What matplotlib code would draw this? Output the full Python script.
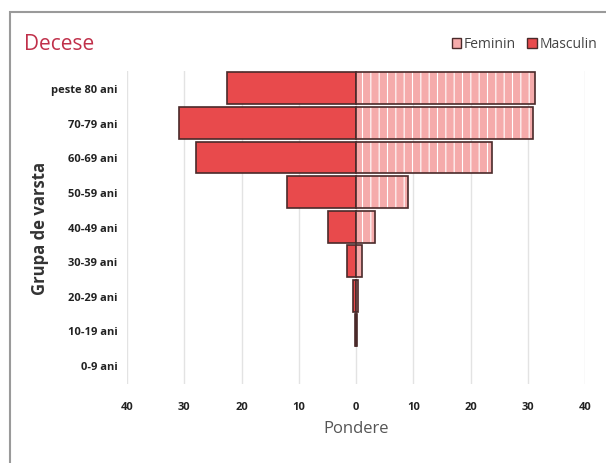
import numpy as np
import matplotlib
matplotlib.use("Agg")
import matplotlib.pyplot as plt
from matplotlib.ticker import FuncFormatter
from matplotlib.patches import Rectangle, Patch

# date (procente)
grupe = ["peste 80 ani", "70-79 ani", "60-69 ani", "50-59 ani", "40-49 ani",
         "30-39 ani", "20-29 ani", "10-19 ani", "0-9 ani"]
masculin = [22.5, 31.0, 27.9, 12.1, 4.9, 1.6, 0.5, 0.15, 0.0]
feminin = [31.2, 30.9, 23.7, 9.1, 3.3, 1.0, 0.4, 0.1, 0.0]
ticks = [-40, -30, -20, -10, 0, 10, 20, 30, 40]

plt.rcParams['font.family'] = ['Open Sans', 'DejaVu Sans']
plt.rcParams['hatch.linewidth'] = 0.8

fig = plt.figure(figsize=(6.06, 4.64), dpi=100)
fig.patch.set_facecolor("white")
# chenar exterior
fig.add_artist(Rectangle((10/606, -0.01), 1.0, 1 - 13/464 + 0.01, transform=fig.transFigure,
                         fill=False, edgecolor="#9a9a9a", linewidth=1.5))

ax = fig.add_axes([127/606, 1 - 385/464, 458/606, (385 - 72)/464])
y = np.arange(len(grupe))
rosu = "#e84a4c"
roz = "#f5abab"
contur = "#4a2a2a"
lw_m = [1.2 if v > 0 else 0 for v in masculin]
lw_f = [1.2 if v > 0 else 0 for v in feminin]

ax.barh(y, [-m for m in masculin], height=0.92, color=rosu, edgecolor=contur, linewidth=lw_m, zorder=3)
ax.barh(y, feminin, height=0.92, color=roz, edgecolor="white", hatch="||", linewidth=0, zorder=3)
ax.barh(y, feminin, height=0.92, fill=False, edgecolor=contur, linewidth=lw_f, zorder=4)

ax.set_xlim(-40, 40)
ax.set_ylim(len(grupe) - 0.45, -0.5)
ax.set_xticks(ticks)
ax.xaxis.set_major_formatter(FuncFormatter(lambda v, p: "%d" % abs(v)))
ax.set_yticks(y)
ax.set_yticklabels(grupe)
ax.tick_params(axis="y", length=0, pad=7, labelsize=8, labelcolor="#222222")
ax.tick_params(axis="x", length=0, pad=12, labelsize=8, labelcolor="#222222")
for lab in ax.get_xticklabels() + ax.get_yticklabels():
    lab.set_fontweight("bold")
ax.grid(axis="x", color="#e3e3e3", linewidth=1, zorder=0)
for s in ax.spines.values():
    s.set_visible(False)

ax.set_xlabel("Pondere", fontsize=12, color="#555555", labelpad=6)
fig.text(40/606, 1 - 228/464, "Grupa de varsta", rotation=90, ha="center", va="center",
         fontsize=12, color="#333333", fontweight="bold")

fig.text(24/606, 1 - 45/464, "Decese", fontsize=15, color="#c0304a", va="center")

handles = [Patch(facecolor=roz, edgecolor=contur, label="Feminin"),
           Patch(facecolor=rosu, edgecolor=contur, label="Masculin")]
fig.legend(handles=handles, loc="center right", bbox_to_anchor=(610/606, 1 - 45/464), ncol=2,
           frameon=False, fontsize=10, handlelength=0.7, handleheight=0.7,
           handletextpad=0.2, columnspacing=0.8, labelcolor="#444444")

fig.savefig("out.png", dpi=100, facecolor="white")
